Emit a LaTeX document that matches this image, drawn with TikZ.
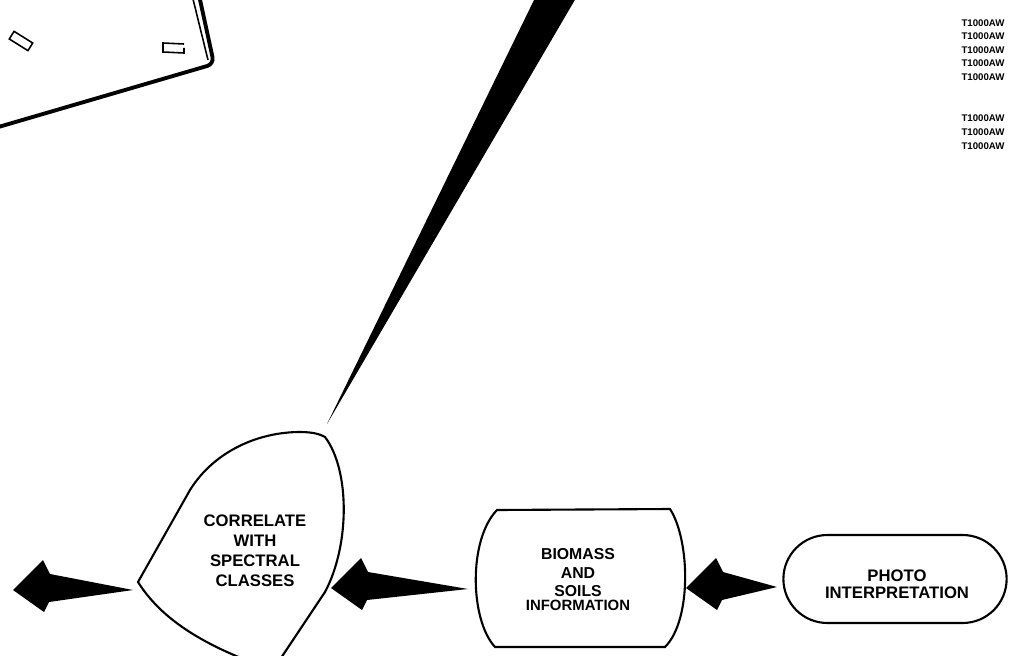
\documentclass[tikz,border=0pt]{standalone}
\usepackage{fontspec}
\setsansfont{Liberation Sans}
\usepackage{tikz}
\usetikzlibrary{calc,shapes.misc}
\tikzstyle{flowtext} = [font=\sffamily\bfseries\fontsize{9.5}{11.3}\selectfont,
    align=center, inner sep=0pt]
\tikzstyle{outline} = [draw=black, line width=1.2pt]
\tikzstyle{pillbox} = [outline, rounded rectangle, minimum width=4.7cm, minimum height=1.76cm]
\tikzstyle{tabbox} = [draw=black, line width=0.9pt, minimum width=0.44cm,
    minimum height=0.18cm, inner sep=0pt]
\tikzstyle{tag} = [font=\sffamily\bfseries\fontsize{5.5}{6}\selectfont, inner sep=0pt]
\newcommand{\fatarrow}[2]{%
    \fill (#2) -- ++(30,-30) -- ++(7,14) -- (#1) -- ($(#2)+(36,12)$) -- ++(-5,10) -- cycle;}

\begin{document}
\begin{tikzpicture}[x=0.02cm, y=-0.02cm]
                \clip (0,0) rectangle (1016,655);
                % plate corner
                \draw[line width=2.2pt, rounded corners=4pt] (-5,128) -- (214,64) -- (199,-5);
                \draw[line width=0.9pt] (192,-5) -- (208,60);
                \node[tabbox, rotate=-32] (tab1) at (21,41) {};
                \draw[line width=0.9pt] (184,44) -- (163,43) -- (163,52) -- (184,53) -- (184,48);
                % pointer
                \fill (535,-2) -- (576,-2) -- (327,424) -- cycle;
                % correlate
                \draw[outline] (138,582) -- (190,490) .. controls (215,450) and (260,432) .. (300,432)
                    .. controls (312,432) and (320,434) .. (325,437)
                    .. controls (350,470) and (350,545) .. (325,592) -- (273,670)
                    .. controls (215,650) and (165,625) .. (138,582) -- cycle;
                \node[flowtext] (corr) at (255,551) {CORRELATE\\WITH\\SPECTRAL\\CLASSES};
                % biomass
                \draw[outline] (497,510) -- (670,509) .. controls (690,540) and (692,620) .. (665,647)
                    -- (495,647) .. controls (470,620) and (468,540) .. (497,510) -- cycle;
                \node[flowtext, font=\sffamily\bfseries\fontsize{9}{10.5}\selectfont] (bio) at (578,580)
                    {BIOMASS\\AND\\SOILS\\[-2.5pt]{\fontsize{8.5}{9}\selectfont INFORMATION}};
                % photo
                \node[pillbox] (photo) at (895,579) {};
                \node[flowtext, font=\sffamily\bfseries\fontsize{9.5}{9.8}\selectfont] (photolbl) at (897,584)
                    {PHOTO\\INTERPRETATION};
                % arrows
                \coordinate (out) at (13,590);
                \coordinate (corr-w) at (133,590);
                \coordinate (corr-e) at (331,588);
                \coordinate (bio-w) at (468,589);
                \coordinate (bio-e) at (686,588);
                \coordinate (photo-w) at (777,587);
                \fatarrow{corr-w}{out}
                \fatarrow{bio-w}{corr-e}
                \fatarrow{photo-w}{bio-e}
                % tags
                \foreach \y [count=\i] in {23,36,50,63,77,118,132,146}
                    \node[tag] (tag\i) at (983,\y) {T1000AW};
            \end{tikzpicture}
\end{document}
